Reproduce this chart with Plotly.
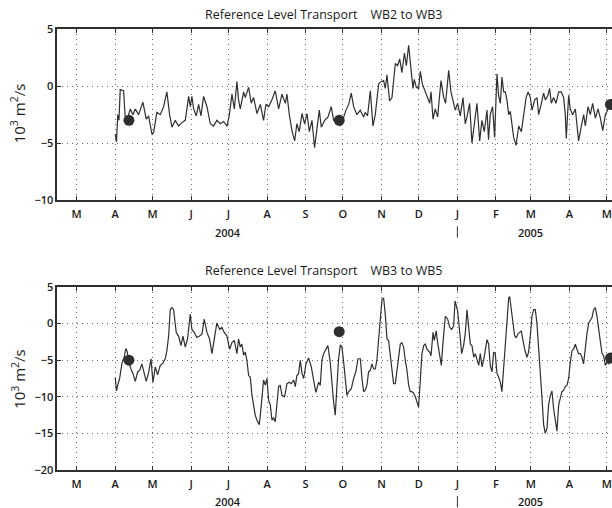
import pandas as pd
import plotly.graph_objects as go

# ---- data -----------------------------------------------------------------
series_start = "2004-04-01"

# WB2 -> WB3 reference-level transport (10^3 m^2/s), day offsets from series_start
wb23_day = [0, 1, 2, 3, 4, 6.7, 8, 9.9, 12.1, 14.2, 16.1, 18.8, 22.2, 24.9, 26.8, 29.5,
            30.8, 33.5, 36.2, 38.9, 41.5, 43.7, 45.6, 48.2, 50.9, 53.6, 56.3, 59.0, 60.3,
            61.6, 63.0, 65.1, 67.0, 68.9, 71.0, 73.7, 76.4, 79.0, 81.7, 84.4, 87.1, 89.8,
            91.6, 93.8, 95.7, 97.8, 99.1, 100.5, 103.2, 104.5, 107.2, 109.3, 111.2, 113.9,
            116.6, 119.2, 121.1, 123.3, 125.9, 128.6, 131.3, 134.0, 136.7, 138.0, 139.9,
            142.0, 144.2, 146.0, 147.9, 150.1, 152.2, 154.1, 156.0, 158.1, 160.2, 162.1,
            164.0, 165.6, 168.3, 171.0, 173.6, 175.5, 178.2, 180.9, 182.8, 185.4, 187.6,
            189.7, 191.6, 194.3, 196.9, 199.6, 200.9, 202.8, 205.0, 207.1, 209.0, 211.7,
            213.5, 215.7, 217.0, 218.4, 220.5, 222.4, 225.1, 227.0, 228.6, 230.4, 232.4,
            234.0, 235.8, 237.7, 239.3, 240.3, 242.0, 243.8, 245.2, 246.8, 248.4, 250.5,
            252.7, 253.8, 255.4, 257.2, 259.1, 261.8, 264.0, 265.5, 268.0, 269.8, 272.0,
            273.3, 275.2, 277.3, 279.5, 281.3, 282.7, 284.8, 286.7, 288.6, 290.7, 292.9,
            294.7, 296.6, 298.8, 300.0, 301.4, 303.3, 304.9, 306.8, 308.1, 309.5, 310.8,
            312.2, 313.5, 314.8, 316.2, 317.5, 318.9, 320.2, 322.1, 324.3, 326.4, 328.3,
            330.2, 331.8, 333.6, 335.0, 337.1, 339.0, 340.3, 342.5, 344.3, 345.7, 347.8,
            349.1, 350.5, 352.3, 354.2, 356.4, 358.5, 360.4, 361.7, 362.5, 364.4, 365.7,
            367.6, 369.8, 372.4, 374.6, 376.5, 377.8, 380.0, 381.8, 383.7, 385.9, 388.0,
            389.9, 391.8, 393.9, 396.1, 399.3, 402]
wb23_val = [-4.2, -4.9, -2.5, -3.0, -0.3, -0.4, -2.7, -2.8, -2.0, -2.5, -2.0, -2.5, -1.4,
            -2.9, -2.6, -4.2, -4.1, -2.3, -2.5, -1.8, -0.5, -2.5, -3.6, -3.0, -3.5, -3.2,
            -3.0, -0.9, -1.8, -0.9, -2.0, -2.6, -1.6, -2.6, -0.9, -1.8, -3.3, -3.5, -3.0,
            -3.3, -3.1, -3.5, -2.6, -0.7, -2.0, 0.4, -1.2, -2.0, -0.5, -1.0, -0.1, -1.5,
            -1.0, -2.4, -1.6, -3.0, -1.6, -1.8, -1.2, -0.4, -2.0, -0.7, -1.5, -0.7, -2.5,
            -3.9, -4.8, -3.3, -4.0, -2.4, -3.3, -2.4, -4.0, -3.0, -5.4, -3.5, -2.1, -3.6,
            -3.0, -2.7, -1.8, -3.0, -2.8, -3.5, -3.0, -2.1, -1.6, -0.6, -1.8, -2.5, -2.1,
            -2.7, -2.3, -2.6, -0.4, -3.5, -2.5, 0.2, 0.4, 0.5, -0.2, 1.0, -1.3, -1.0, 2.0,
            1.8, 2.4, 1.2, 2.9, 1.8, 3.6, 1.5, -0.2, 0.6, -0.1, -0.2, 1.3, 0.2, -0.3, -0.8,
            -1.5, -0.5, -2.9, -2.0, -2.7, 0.5, -1.0, -1.5, 1.4, -0.5, -1.5, -2.1, -1.5,
            -2.6, -1.0, -3.3, -2.7, -1.5, -5.0, -3.5, -1.5, -4.8, -3.0, -4.0, -2.1, -4.7,
            -2.5, -1.8, -4.5, 1.1, -0.8, -1.5, 0.8, -0.5, -0.5, -1.2, -2.5, -2.2, -3.5,
            -4.5, -5.2, -3.5, -4.0, -2.5, -1.0, -0.5, -1.0, -2.1, -1.2, -1.0, -2.5, -1.5,
            -0.6, -1.2, -0.8, -0.2, -1.5, -1.0, -1.5, -0.5, -0.5, -1.0, -2.5, -4.6, -0.8,
            -2.0, -2.5, -2.0, -4.8, -3.5, -2.5, -3.5, -1.8, -2.5, -1.5, -2.8, -2.0, -2.8,
            -3.9, -2.5, -2.0, -1.6, -1.4]

# WB3 -> WB5 reference-level transport (10^3 m^2/s)
wb35_day = [0, 1, 2, 3.5, 5.4, 7.2, 8.5, 9.4, 10.7, 12.6, 14.2, 16.1, 18.0, 19.6, 21.4,
            22.8, 24.9, 26.8, 28.7, 30.3, 32.2, 34.0, 36.2, 38.3, 40.2, 41.5, 42.9, 44.2,
            45.6, 46.9, 49.0, 50.9, 52.8, 54.4, 56.3, 58.1, 60.3, 61.6, 63.5, 65.6, 67.8,
            69.7, 71.5, 73.7, 75.8, 77.7, 79.6, 81.7, 83.9, 85.7, 87.6, 89.8, 91.9, 93.8,
            95.7, 97.8, 99.1, 100.5, 101.8, 103.2, 104.5, 105.8, 107.2, 108.5, 109.9,
            111.2, 112.5, 113.9, 115.8, 117.4, 119.2, 120.6, 121.9, 123.3, 124.6, 126.0,
            127.3, 128.6, 130.0, 131.3, 132.6, 134.0, 136.1, 138.0, 139.9, 141.5, 143.4,
            144.7, 146.0, 147.4, 148.7, 150.1, 151.4, 153.3, 155.4, 157.6, 159.4, 161.3,
            163.5, 164.8, 166.1, 167.5, 169.3, 170.9, 172.8, 174.2, 175.5, 176.8, 178.2,
            179.5, 180.9, 182.2, 183.6, 184.9, 186.2, 187.6, 189.7, 191.6, 193.5, 195.1,
            197.0, 198.3, 199.6, 200.9, 202.3, 203.6, 205.0, 206.3, 207.7, 209.0, 210.3,
            211.7, 213.0, 214.4, 215.7, 217.0, 218.4, 219.7, 221.1, 222.4, 223.7, 225.1,
            226.4, 227.8, 229.1, 230.4, 231.8, 233.1, 234.5, 235.8, 237.1, 238.5, 239.8,
            241.2, 242.5, 243.8, 245.2, 246.5, 247.9, 249.2, 250.5, 252.7, 253.8, 255.4,
            256.4, 258.0, 259.1, 260.7, 262.1, 263.4, 265.3, 267.2, 268.8, 270.4, 272.0,
            273.1, 274.1, 275.2, 276.8, 278.4, 280.0, 281.4, 282.7, 284.0, 285.4, 286.7,
            288.1, 289.4, 290.7, 292.1, 293.4, 294.8, 296.1, 297.4, 298.8, 300.1, 301.4,
            302.8, 304.1, 305.4, 306.8, 308.1, 309.5, 310.8, 312.1, 313.5, 314.8, 316.2,
            317.0, 318.3, 319.4, 321.0, 322.3, 323.7, 325.0, 326.3, 327.7, 329.0, 330.9,
            332.2, 333.6, 334.9, 336.3, 337.6, 338.9, 340.3, 341.6, 343.0, 344.3, 345.6,
            347.0, 348.3, 349.7, 351.0, 352.3, 353.7, 355.0, 356.4, 357.7, 359.0, 360.4,
            361.7, 363.1, 364.4, 365.7, 367.1, 368.4, 369.8, 371.1, 372.4, 373.8, 375.1,
            376.4, 377.8, 379.1, 380.5, 381.8, 383.1, 384.5, 385.8, 387.2, 388.5, 389.8,
            391.2, 392.5, 393.9, 395.2, 396.6, 397.9, 400, 402]
wb35_val = [-7.4, -9.2, -8.4, -7.5, -5.4, -4.6, -3.4, -3.7, -5.0, -6.2, -6.8, -7.9, -6.6,
            -6.4, -5.5, -6.6, -7.9, -6.7, -4.8, -8.0, -5.9, -7.0, -5.7, -5.4, -4.8, -3.7,
            -1.7, 1.9, 2.2, 1.9, -1.2, -1.7, -3.0, -1.7, -3.2, -2.1, 1.3, -0.8, -1.2, -1.9,
            -1.7, -1.4, 0.6, -1.2, -2.1, -4.1, -2.1, 0.1, -0.8, -0.5, -1.2, -1.7, -3.5,
            -2.6, -2.3, -4.1, -2.1, -3.2, -2.8, -4.3, -3.9, -5.0, -7.1, -7.3, -9.8, -11.4,
            -12.5, -13.2, -13.8, -11.1, -7.7, -8.4, -7.5, -10.5, -11.1, -13.2, -12.9,
            -13.4, -10.7, -8.6, -8.4, -9.8, -10.0, -8.2, -8.0, -8.2, -7.7, -8.6, -7.1,
            -6.8, -5.0, -6.8, -7.5, -5.5, -4.7, -5.9, -7.7, -9.4, -8.0, -8.4, -5.0, -4.1,
            -3.5, -3.0, -5.3, -8.4, -10.7, -12.5, -8.4, -4.8, -2.9, -3.2, -5.3, -8.0, -9.8,
            -9.3, -8.9, -7.5, -6.5, -4.8, -4.8, -7.5, -9.3, -9.1, -8.4, -6.6, -6.4, -5.5,
            -6.2, -6.2, -5.0, -2.1, 1.0, 3.3, 3.5, 1.3, -2.1, -2.3, -4.4, -6.6, -8.2, -8.2,
            -6.2, -3.9, -2.8, -2.6, -3.2, -5.0, -6.4, -8.4, -9.3, -9.3, -9.5, -10.0, -10.9,
            -11.4, -7.7, -4.1, -3.0, -2.8, -3.5, -3.9, -4.4, -1.2, -2.3, -1.0, -2.6, -4.1,
            -5.7, -2.6, 1.0, 0.6, -0.5, -0.8, -0.3, 3.1, 2.2, 1.7, -1.0, -4.1, -3.0, -1.2,
            1.9, -0.3, -2.8, -3.0, -4.6, -4.1, -5.0, -5.7, -4.1, -5.9, -5.0, -3.8, -2.2,
            -2.8, -5.7, -6.6, -3.9, -4.1, -6.8, -7.3, -8.0, -9.3, -6.2, -2.1, 1.0, 3.5,
            3.7, 1.7, 0.1, -1.7, -1.9, -1.4, -1.2, -1.0, -2.3, -3.5, -4.6, -3.9, -1.7, 1.0,
            1.9, 1.9, 0.1, -3.0, -6.6, -10.2, -13.8, -15.0, -14.3, -11.1, -9.8, -9.2,
            -11.6, -13.4, -14.7, -11.1, -10.0, -9.3, -9.1, -8.6, -8.4, -7.5, -5.3, -3.7,
            -3.5, -2.8, -3.5, -4.1, -4.1, -4.6, -5.5, -3.0, -1.4, 0.1, 0.4, 0.8, 1.9, 2.2,
            1.0, -0.5, -2.3, -4.1, -4.4, -5.7, -5.3, -5.5, -5.0, -4.6, -4.4]

# Point estimates shown as filled dots
wb23_pt_date = ["2004-04-12", "2004-09-28", "2005-05-04"]
wb23_pt_val = [-3.0, -3.0, -1.6]
wb35_pt_date = ["2004-04-12", "2004-09-28", "2005-05-04"]
wb35_pt_val = [-5.0, -1.1, -4.7]

# Month ticks
month_ticks = pd.date_range("2004-03-01", "2005-05-01", freq="MS")
month_letters = ["M", "A", "M", "J", "J", "A", "S", "O", "N", "D", "J", "F", "M", "A", "M"]

# ---- figure ---------------------------------------------------------------
t0 = pd.Timestamp(series_start)
to_dates = lambda days: [t0 + pd.Timedelta(days=float(d)) for d in days]

INK = "#2f2f2f"
GRID = "#666666"
FONT = "Open Sans"
x_range = ["2004-02-14 10:00", "2005-05-05 06:00"]

fig = go.Figure()
panels = [
    ("", "y", wb23_day, wb23_val, wb23_pt_date, wb23_pt_val),
    ("2", "y2", wb35_day, wb35_val, wb35_pt_date, wb35_pt_val),
]
for suffix, yname, days, vals, pdates, pvals in panels:
    fig.add_trace(go.Scatter(x=to_dates(days), y=vals, mode="lines",
                             line=dict(color=INK, width=1.2),
                             xaxis="x" + suffix, yaxis=yname, showlegend=False))
    fig.add_trace(go.Scatter(x=pdates, y=pvals, mode="markers",
                             marker=dict(color=INK, size=11),
                             xaxis="x" + suffix, yaxis=yname, showlegend=False))

tick_font = dict(family=FONT, size=11, color="#1a1a1a", weight=600)
common_x = dict(
    type="date", range=x_range, domain=[0.0936, 1.0],
    tickmode="array", tickvals=list(month_ticks), ticktext=month_letters,
    ticks="inside", ticklen=4, tickcolor=INK, tickwidth=1,
    showline=True, linecolor=INK, linewidth=1.5, mirror="ticks",
    showgrid=True, gridcolor=GRID, gridwidth=1, griddash="1px,4px",
    zeroline=False, tickfont=tick_font, ticklabelstandoff=3,
)
common_y = dict(
    ticks="inside", ticklen=4, tickcolor=INK, tickwidth=1,
    showline=True, linecolor=INK, linewidth=1.5, mirror=False,
    showgrid=True, gridcolor=GRID, gridwidth=1, griddash="1px,4px",
    zeroline=False, tickfont=tick_font,
)

fig.update_layout(
    width=612, height=508,
    margin=dict(l=0, r=0, t=0, b=0, autoexpand=False),
    paper_bgcolor="white", plot_bgcolor="white",
    xaxis=dict(common_x, anchor="y"),
    yaxis=dict(common_y, anchor="x", domain=[0.6063, 0.9423],
               range=[-10, 5], tickvals=[-10, -5, 0, 5]),
    xaxis2=dict(common_x, anchor="y2"),
    yaxis2=dict(common_y, anchor="x2", domain=[0.0748, 0.4350],
                range=[-20, 5], tickvals=[-20, -15, -10, -5, 0, 5]),
)

annotations = []
shapes = []
for title, ty, ly, yy in [
    ("Reference Level Transport    WB2 to WB3", 0.9724, 0.7776, 0.5433),
    ("Reference Level Transport    WB3 to WB5", 0.4685, 0.2549, 0.0124),
]:
    annotations.append(dict(text=title, x=0.529, y=ty, xref="paper", yref="paper",
                            xanchor="center", yanchor="middle", showarrow=False,
                            font=dict(family=FONT, size=12.5, color="#1a1a1a", weight=500)))
    annotations.append(dict(text="10<sup>3</sup> m<sup>2</sup>/s", x=0.03, y=ly,
                            xref="paper", yref="paper", textangle=-90, showarrow=False,
                            xanchor="center", yanchor="middle",
                            font=dict(family=FONT, size=15, color="#1a1a1a", weight=500)))
    for label, when in [("2004", "2004-07-01"), ("2005", "2005-03-01")]:
        annotations.append(dict(text=label, x=when, y=yy, xref="x", yref="paper",
                                xanchor="center", yanchor="middle", showarrow=False,
                                font=tick_font))
    # year-boundary separator under January 2005
    shapes.append(dict(type="line", xref="x", yref="paper",
                       x0="2005-01-01", x1="2005-01-01", y0=yy - 0.011, y1=yy + 0.011,
                       line=dict(color=INK, width=1)))
fig.update_layout(annotations=annotations, shapes=shapes)

fig.write_html("out.html")
